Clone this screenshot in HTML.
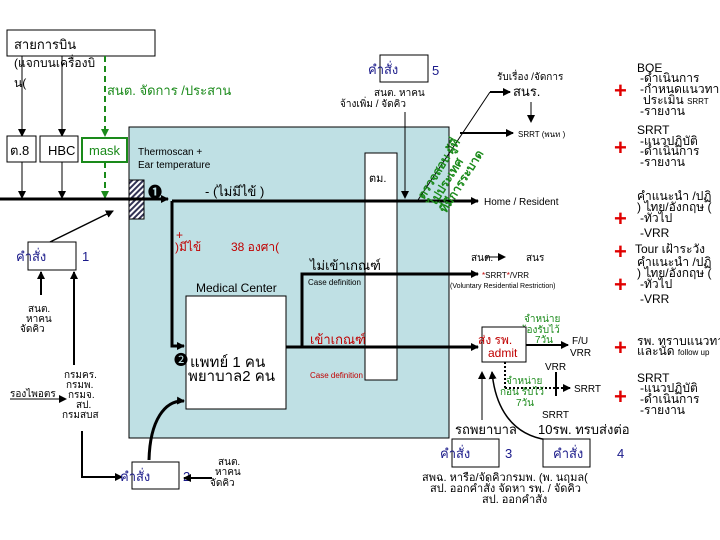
<!DOCTYPE html>
<html><head><meta charset="utf-8"><style>
html,body{margin:0;padding:0;background:#fff}
svg{display:block}
text{font-family:"Liberation Sans","Noto Sans CJK SC","WenQuanYi Zen Hei",sans-serif;font-size:12px}
.s{font-size:10px}.xs{font-size:8px}
.r{fill:#c00000}.g{fill:#1a8a1a}.b{fill:#1a1a8a}
.p{font-size:22px;font-weight:bold;fill:#e00000}
.gd{font-size:12px;font-weight:bold;fill:#1a8a1a}
.rc{font-size:12px}
</style></head><body>
<svg width="720" height="540" viewBox="0 0 720 540" xmlns="http://www.w3.org/2000/svg">
<defs>
<marker id="a" markerWidth="8" markerHeight="8" refX="7" refY="4" orient="auto" markerUnits="userSpaceOnUse"><path d="M0,0L8,4L0,8z" fill="#000"/></marker>
<marker id="ag" markerWidth="8" markerHeight="8" refX="7" refY="4" orient="auto" markerUnits="userSpaceOnUse"><path d="M0,0L8,4L0,8z" fill="#1a8a1a"/></marker>
<pattern id="h" width="4" height="4" patternUnits="userSpaceOnUse" patternTransform="rotate(45)"><rect width="4" height="4" fill="#fff"/><rect width="2" height="4" fill="#335"/></pattern>
</defs>
<rect x="129" y="127" width="320" height="311" fill="#bfe0e4" stroke="#000"/>
<rect x="365" y="153" width="32" height="227" fill="#fff" stroke="#000"/>
<rect x="186" y="296" width="100" height="113" fill="#fff" stroke="#000"/>
<rect x="129" y="180" width="15" height="39" fill="url(#h)" stroke="#000"/>
<rect x="7" y="30" width="148" height="26" fill="#fff" stroke="#000"/>
<text x="14" y="49" style="font-size:13px">สายการบิน</text>
<text x="14" y="67">(แจกบนเครื่องบิ</text>
<text x="14" y="87">น(</text>
<text x="107" y="95" class="g" style="font-size:13px">สนต. จัดการ /ประสาน</text>
<line x1="22" y1="56" x2="22" y2="136" stroke="#000" marker-end="url(#a)"/>
<line x1="62" y1="56" x2="62" y2="136" stroke="#000" marker-end="url(#a)"/>
<line x1="105" y1="56" x2="105" y2="136" stroke="#1a8a1a" stroke-width="2" stroke-dasharray="6,4" marker-end="url(#ag)"/>
<rect x="7" y="136" width="29" height="26" fill="#fff" stroke="#000"/><text x="10" y="155" style="font-size:13px">ต.8</text>
<rect x="40" y="136" width="38" height="26" fill="#fff" stroke="#000"/><text x="48" y="155" style="font-size:13px">HBC</text>
<rect x="82" y="138" width="45" height="24" fill="#fff" stroke="#1a8a1a" stroke-width="2"/><text x="89" y="155" class="g" style="font-size:13px">mask</text>
<line x1="22" y1="162" x2="22" y2="198" stroke="#000" marker-end="url(#a)"/>
<line x1="62" y1="162" x2="62" y2="198" stroke="#000" marker-end="url(#a)"/>
<line x1="105" y1="162" x2="105" y2="198" stroke="#1a8a1a" stroke-width="2" stroke-dasharray="6,4" marker-end="url(#ag)"/>
<text x="138" y="155" class="s">Thermoscan +</text>
<text x="138" y="168" class="s">Ear temperature</text>
<line x1="0" y1="199" x2="168" y2="199" stroke="#000" stroke-width="3" marker-end="url(#a)"/>
<text x="148" y="197" style="font-size:14px;font-weight:bold">❶</text>
<text x="205" y="196" style="font-size:13px">- (ไม่มีไข้       )</text>
<polyline points="172,201 478,201" fill="none" stroke="#000" stroke-width="3" marker-end="url(#a)"/>
<polyline points="172,201 172,346 184,346" fill="none" stroke="#000" stroke-width="3" marker-end="url(#a)"/>
<text x="176" y="239" class="r">+</text>
<text x="175" y="251" class="r">)มีไข้</text>
<text x="231" y="251" class="r">38 องศา(</text>
<text x="196" y="292" style="font-size:12px">Medical Center</text>
<text x="174" y="365" style="font-size:14px">❷</text>
<text x="190" y="367" style="font-size:15px">แพทย์  1 คน</text>
<text x="188" y="381" style="font-size:15px">พยาบาล2 คน</text>
<polyline points="286,347 478,347" fill="none" stroke="#000" stroke-width="3" marker-end="url(#a)"/>
<polyline points="302,347 302,274 478,274" fill="none" stroke="#000" stroke-width="3" marker-end="url(#a)"/>
<text x="310" y="270" style="font-size:13px">ไม่เข้าเกณฑ์</text>
<text x="308" y="285" class="xs">Case definition</text>
<text x="310" y="344" class="r" style="font-size:13px">เข้าเกณฑ์</text>
<text x="310" y="378" class="r xs">Case definition</text>
<text x="369" y="182" style="font-size:11px">ตม.</text>
<rect x="28" y="242" width="48" height="28" fill="#fff" stroke="#000"/>
<text x="16" y="261" class="b" style="font-size:13px">คำสั่ง</text><text x="82" y="261" class="b" style="font-size:13px">1</text>
<line x1="50" y1="242" x2="113" y2="211" stroke="#000" stroke-width="1.5" marker-end="url(#a)"/>
<line x1="41" y1="295" x2="41" y2="272" stroke="#000" stroke-width="2" marker-end="url(#a)"/>
<line x1="74" y1="365" x2="74" y2="272" stroke="#000" stroke-width="2" marker-end="url(#a)"/>
<text x="28" y="312" class="s">สนต.</text><text x="26" y="322" class="s">หาคน</text><text x="20" y="332" class="s">จัดคิว</text>
<text x="64" y="378" class="s">กรมคร.</text><text x="66" y="388" class="s">กรมพ.</text>
<text x="10" y="397" class="s">รองไพอตร</text><line x1="10" y1="399" x2="66" y2="399" stroke="#000" marker-end="url(#a)"/>
<text x="68" y="398" class="s">กรมจ.</text><text x="76" y="408" class="s">สป.</text><text x="62" y="418" class="s">กรมสบส</text>
<polyline points="82,431 82,477 122,477" fill="none" stroke="#000" stroke-width="2" marker-end="url(#a)"/>
<rect x="132" y="462" width="47" height="27" fill="#fff" stroke="#000"/>
<text x="120" y="481" class="b" style="font-size:13px">คำสั่ง</text><text x="183" y="481" class="b" style="font-size:13px">2</text>
<line x1="212" y1="478" x2="184" y2="478" stroke="#000" stroke-width="2" marker-end="url(#a)"/>
<text x="218" y="465" class="s">สนต.</text><text x="215" y="475" class="s">หาคน</text><text x="210" y="486" class="s">จัดคิว</text>
<path d="M149,460 C150,420 165,400 184,401" fill="none" stroke="#000" stroke-width="3" marker-end="url(#a)"/>
<rect x="380" y="55" width="48" height="27" fill="#fff" stroke="#000"/>
<text x="368" y="74" class="b" style="font-size:13px">คำสั่ง</text><text x="432" y="75" class="b" style="font-size:13px">5</text>
<text x="374" y="96" class="s">สนต. หาคน</text><text x="340" y="107" class="s">จ้างเพิ่ม      / จัดคิว</text>
<line x1="405" y1="112" x2="405" y2="198" stroke="#000" marker-end="url(#a)"/>
<line x1="418" y1="200" x2="490" y2="92" stroke="#000"/>
<line x1="490" y1="92" x2="510" y2="92" stroke="#000" stroke-width="2" marker-end="url(#a)"/>
<line x1="460" y1="133" x2="513" y2="133" stroke="#000" stroke-width="2" marker-end="url(#a)"/>
<g transform="translate(424,200) rotate(-58)"><text x="0" y="0" class="gd">ตรวจสอบ ผู้ที่</text><text x="0" y="13" class="gd">ไปประเทศ</text><text x="0" y="26" class="gd">ที่มีการระบาด</text></g>
<text x="497" y="80" class="s">รับเรื่อง      /จัดการ</text>
<text x="513" y="96" style="font-size:13px">สนร.</text>
<line x1="531" y1="102" x2="531" y2="122" stroke="#000" marker-end="url(#a)"/>
<text x="518" y="137" class="xs">SRRT (พนท        )</text>
<text x="484" y="205" class="s">Home / Resident</text>
<text x="471" y="261" class="s">สนต.</text><line x1="485" y1="257" x2="505" y2="257" stroke="#000" marker-end="url(#a)"/><text x="526" y="261" class="s">สนร</text>
<text x="482" y="278" class="xs"><tspan fill="#c00000">*</tspan>SRRT<tspan fill="#c00000">*</tspan>/VRR</text>
<text x="450" y="288" style="font-size:7px">(Voluntary Residential Restriction)</text>
<text x="524" y="322" class="g s">จำหน่าย</text><text x="520" y="333" class="g s">ต้องรับไว้</text><text x="535" y="343" class="g s">7วัน</text>
<rect x="482" y="327" width="44" height="35" fill="#fff" stroke="#000"/>
<text x="478" y="344" class="r" style="font-size:12px">ส่ง    รพ.</text><text x="488" y="357" class="r" style="font-size:12px">admit</text>
<line x1="526" y1="345" x2="568" y2="345" stroke="#000" stroke-width="2" marker-end="url(#a)"/>
<text x="572" y="344" class="s">F/U</text><text x="570" y="356" class="s">VRR</text>
<text x="545" y="370" class="s">VRR</text>
<line x1="505" y1="362" x2="505" y2="388" stroke="#000" stroke-width="2" stroke-dasharray="2,2"/>
<line x1="505" y1="388" x2="570" y2="388" stroke="#000" stroke-width="2" stroke-dasharray="2,2" marker-end="url(#a)"/>
<line x1="556" y1="372" x2="556" y2="396" stroke="#000" stroke-width="2"/>
<text x="574" y="392" class="s">SRRT</text>
<text x="506" y="384" class="g s">จำหน่าย</text><text x="500" y="395" class="g s">ก่อน  รับไว้</text><text x="516" y="406" class="g s">7วัน</text>
<text x="542" y="418" class="s">SRRT</text>
<line x1="482" y1="420" x2="482" y2="372" stroke="#000" marker-end="url(#a)"/>
<path d="M548,440 C510,435 495,405 492,372" fill="none" stroke="#000" stroke-width="1.5" marker-end="url(#a)"/>
<text x="455" y="434" style="font-size:13px">รถพยาบาล</text>
<text x="538" y="434" style="font-size:13px">10รพ. ทรบส่งต่อ</text>
<rect x="452" y="439" width="47" height="28" fill="#fff" stroke="#000"/>
<text x="440" y="458" class="b" style="font-size:13px">คำสั่ง</text><text x="505" y="458" class="b" style="font-size:13px">3</text>
<rect x="543" y="439" width="47" height="28" fill="#fff" stroke="#000"/>
<text x="553" y="458" class="b" style="font-size:13px">คำสั่ง</text><text x="617" y="458" class="b" style="font-size:13px">4</text>
<text x="422" y="481" style="font-size:11px">สพฉ. หารือ/จัดคิวกรมพ. (พ. นฤมล(</text>
<text x="430" y="492" style="font-size:11px">สป. ออกคำสั่ง จัดหา  รพ. / จัดคิว</text>
<text x="482" y="503" style="font-size:11px">สป. ออกคำสั่ง</text>
<g>
<text x="637" y="72" class="rc">BOE</text><text x="640" y="82" class="rc">-ดำเนินการ</text><text x="640" y="93" class="rc">-กำหนดแนวทาง</text><text x="643" y="104" class="rc">ประเมิน  <tspan style="font-size:8px">SRRT</tspan></text><text x="640" y="115" class="rc">-รายงาน</text>
<text x="637" y="134" class="rc">SRRT</text><text x="640" y="145" class="rc">-แนวปฏิบัติ</text><text x="640" y="155" class="rc">-ดำเนินการ</text><text x="640" y="166" class="rc">-รายงาน</text>
<text x="637" y="200" class="rc">คำแนะนำ   /ปฏิ</text><text x="637" y="211" class="rc">) ไทย/อังกฤษ (</text><text x="640" y="222" class="rc">-ทั่วไป</text><text x="640" y="237" class="rc">-VRR</text>
<text x="635" y="253" class="rc">Tour เฝ้าระวัง</text>
<text x="637" y="266" class="rc">คำแนะนำ   /ปฏิ</text><text x="637" y="277" class="rc">) ไทย/อังกฤษ (</text><text x="640" y="288" class="rc">-ทั่วไป</text><text x="640" y="303" class="rc">-VRR</text>
<text x="637" y="345" class="rc">รพ. ทราบแนวทาง</text><text x="637" y="355" class="rc">และนัด  <tspan style="font-size:8px">follow up</tspan></text>
<text x="637" y="382" class="rc">SRRT</text><text x="640" y="392" class="rc">-แนวปฏิบัติ</text><text x="640" y="403" class="rc">-ดำเนินการ</text><text x="640" y="414" class="rc">-รายงาน</text>
</g>
<text x="614" y="98" class="p">+</text><text x="614" y="155" class="p">+</text><text x="614" y="226" class="p">+</text><text x="614" y="259" class="p">+</text><text x="614" y="292" class="p">+</text><text x="614" y="355" class="p">+</text><text x="614" y="404" class="p">+</text>
</svg>
</body></html>
